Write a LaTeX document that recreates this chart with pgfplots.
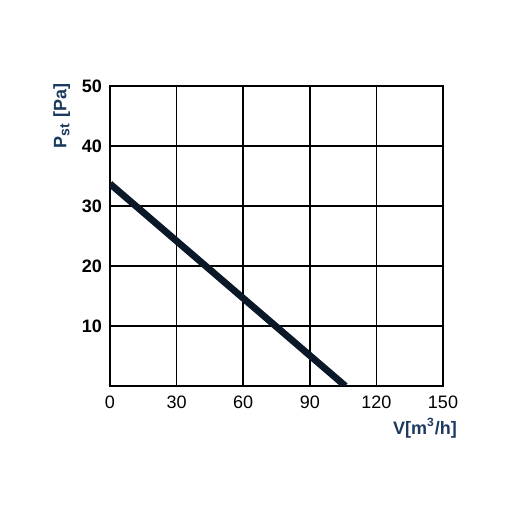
\documentclass[border=0pt]{standalone}
\usepackage{pgfplots}
\pgfplotsset{compat=1.18}
\usepackage{fontspec}
\setmainfont{Liberation Sans}
\definecolor{navy}{HTML}{0B1828}
\definecolor{labelblue}{HTML}{1B3A5E}

\begin{document}
\begin{tikzpicture}
\useasboundingbox (-55pt,-63pt) rectangle (201pt,193pt);
\begin{axis}[
    scale only axis,
    width=166.5pt, height=150pt,
    xmin=0, xmax=150, ymin=0, ymax=50,
    xtick={0,30,...,150}, ytick={10,20,...,50},
    major tick length=0pt,
    grid=major,
    grid style={black, line width=0.8pt},
    axis line style={black, line width=0.8pt},
    /pgf/number format/assume math mode=true,
    xticklabel style={font=\fontsize{9}{10}\selectfont, yshift=-1.5pt},
    yticklabel style={font=\fontsize{9}{10}\selectfont\bfseries, xshift=-0.5pt},
    xlabel={V[m\textsuperscript{3}/h]},
    xlabel style={at={(axis description cs:0.946,-0.14)}, anchor=center,
        font=\fontsize{9}{10}\selectfont\bfseries, text=labelblue},
    ylabel={P\textsubscript{\scriptsize st} [Pa]},
    ylabel style={at={(axis description cs:-0.145,0.9)}, anchor=center,
        font=\fontsize{9}{10}\selectfont\bfseries, text=labelblue},
]
\addplot[navy, line width=3.4pt, line cap=butt] coordinates {(0,33.7) (106,0)};
\end{axis}
\end{tikzpicture}
\end{document}
